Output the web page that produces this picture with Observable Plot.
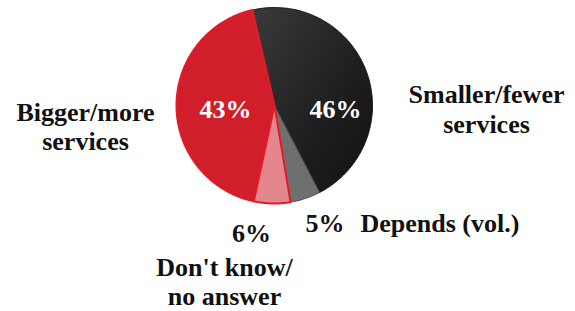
<!DOCTYPE html>
<html>
<head>
<meta charset="utf-8">
<script src="https://cdn.jsdelivr.net/npm/d3@7"></script>
<script src="https://cdn.jsdelivr.net/npm/@observablehq/plot@0.6"></script>
<style>
  html, body { margin: 0; padding: 0; background: #fff; }
  #chart svg { display: block; }
  #chart svg text { font-family: "Liberation Serif", "Times New Roman", "DejaVu Serif", serif !important; font-weight: bold; }
</style>
</head>
<body>
<div id="chart"></div>
<script>
// ---- data ----
const categories = ["Smaller/fewer services", "Depends (vol.)", "Don't know/no answer", "Bigger/more services"];
const values = [46, 5, 6, 43];
const displayLabels = ["Smaller/fewer\nservices", "Depends (vol.)", "Don't know/\nno answer", "Bigger/more\nservices"];

// ---- layout / style ----
const W = 575, H = 311;
const cx = 274, cy = 105, R = 98;
const startDeg = -13;
const fills = ["url(#gBlack)", "#6f6f6f", "#e3868e", "#d01f2b"];
const strokes = ["#151515", "#4a4a4a", "#e31b27", "#e31b27"];
const font = "Liberation Serif, Times New Roman, DejaVu Serif, serif";

const pie = d3.pie().sort(null).value(d => d)
  .startAngle(startDeg * Math.PI / 180)
  .endAngle((startDeg + 360) * Math.PI / 180);
const arcs = pie(values);

function slicePoints(a, i) {
  const pts = [{x: cx, y: cy, k: i}];
  const n = Math.max(8, Math.ceil((a.endAngle - a.startAngle) / 0.01));
  for (let j = 0; j <= n; j++) {
    const t = a.startAngle + (a.endAngle - a.startAngle) * j / n;
    pts.push({x: cx + R * Math.sin(t), y: cy - R * Math.cos(t), k: i});
  }
  return pts;
}

const order = [0, 1, 3, 2];
const sliceMarks = order.map(i => Plot.line(slicePoints(arcs[i], i), {
  x: "x", y: "y", curve: "linear-closed",
  fill: fills[i], stroke: strokes[i], strokeWidth: i >= 2 ? 2 : 1
}));

const pct = values.map(v => `${v}%`);
const txt = {fontFamily: font, fontWeight: "bold", fontSize: 26, lineAnchor: "top"};

const chart = Plot.plot({
  width: W, height: H,
  margin: 0,
  x: {domain: [0, W], range: [0, W], axis: null},
  y: {domain: [0, H], range: [0, H], axis: null},
  marks: [
    ...sliceMarks,
    // percentages inside
    Plot.text([pct[0]], {...txt, x: () => 335, y: () => 99.5, text: d => d, fill: "#fff"}),
    Plot.text([pct[3]], {...txt, x: () => 225, y: () => 99.5, text: d => d, fill: "#fff"}),
    // outside labels
    Plot.text([displayLabels[3]], {...txt, x: () => 85, y: () => 99.5, text: d => d, fill: "#111", lineHeight: 1.13}),
    Plot.text([displayLabels[0]], {...txt, x: () => 486, y: () => 80.5, text: d => d, fill: "#111", lineHeight: 1.17}),
    Plot.text([pct[2]], {...txt, x: () => 251, y: () => 223.5, text: d => d, fill: "#111"}),
    Plot.text([displayLabels[2]], {...txt, x: () => 224, y: () => 254.5, text: d => d, fill: "#111", lineHeight: 1.12}),
    Plot.text([pct[1]], {...txt, x: () => 305, y: () => 213.5, text: d => d, fill: "#111", textAnchor: "start"}),
    Plot.text([displayLabels[1]], {...txt, x: () => 360, y: () => 213.5, text: d => d, fill: "#111", textAnchor: "start"})
  ]
});

// gradient definition for the dark slice
const ns = "http://www.w3.org/2000/svg";
const defs = document.createElementNS(ns, "defs");
defs.innerHTML = `<linearGradient id="gBlack" x1="0" y1="0" x2="1" y2="1">
  <stop offset="0" stop-color="#3a3a3a"/><stop offset="0.6" stop-color="#1e1e1e"/><stop offset="1" stop-color="#121212"/></linearGradient>`;
chart.insertBefore(defs, chart.firstChild);

document.getElementById("chart").appendChild(chart);
</script>
</body>
</html>
